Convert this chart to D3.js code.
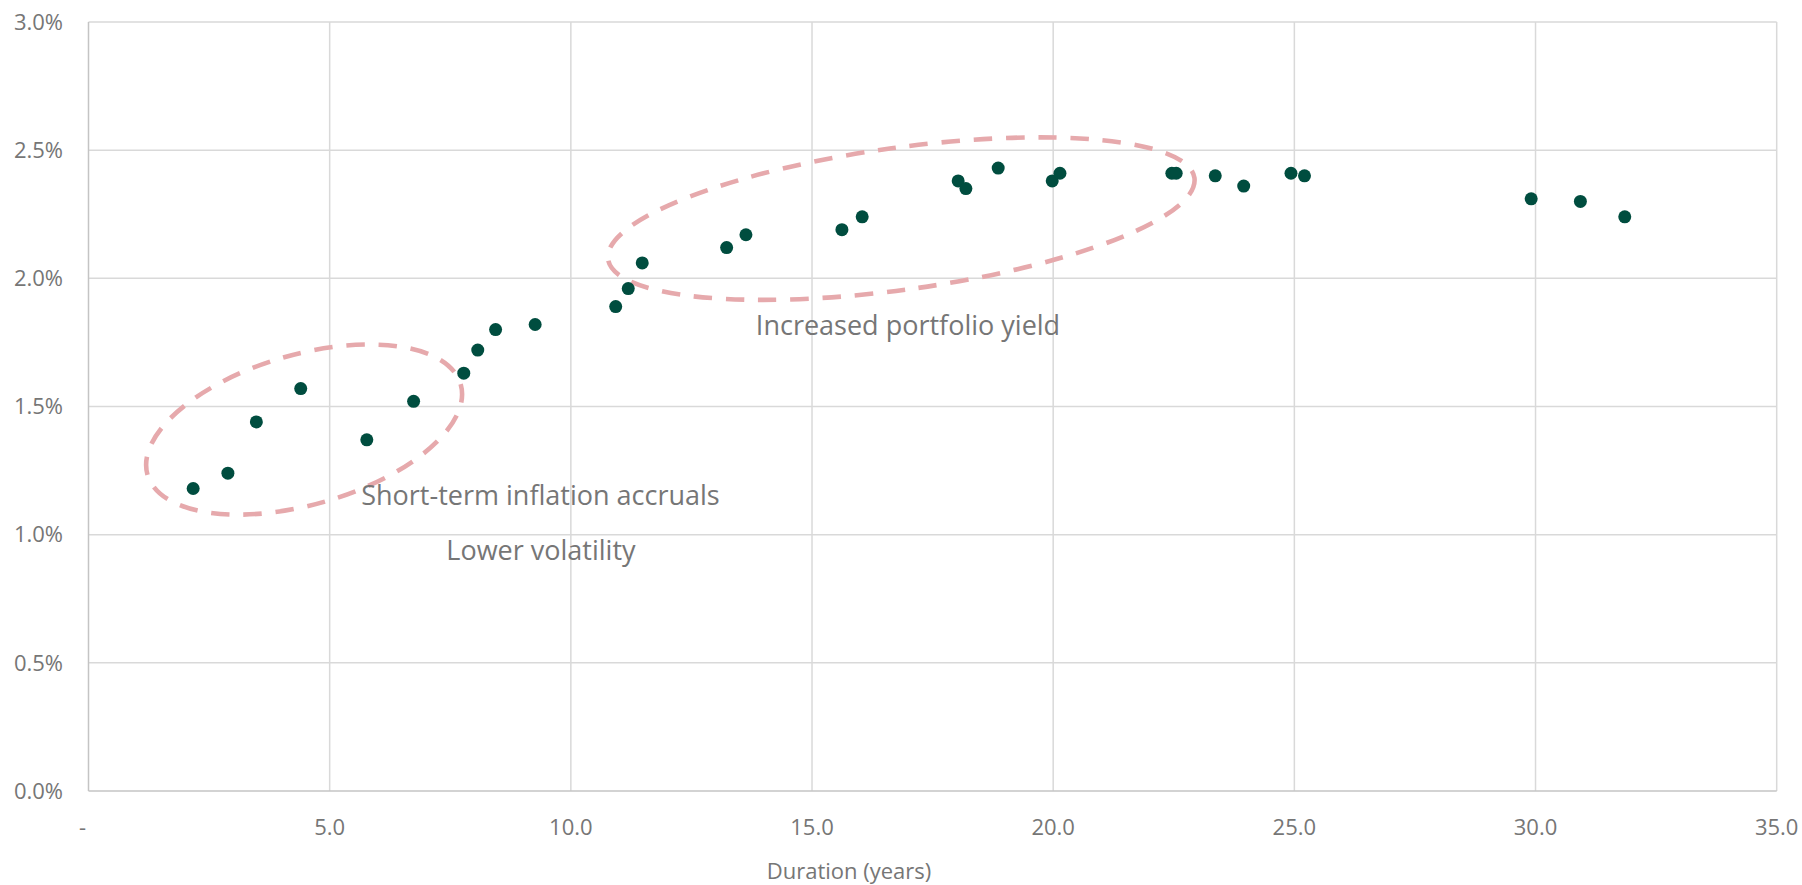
<!DOCTYPE html>
<html>
<head>
<meta charset="utf-8">
<script src="https://cdn.jsdelivr.net/npm/d3@7"></script>
<style>
  body { margin: 0; background: #fff; }
  text { font-family: "Segoe UI", "Open Sans", sans-serif; fill: #767676; }
  .grid line { stroke: #d9d9d9; stroke-width: 1.5; }
  .axis-line { stroke: #c4c4c4; stroke-width: 1.5; }
</style>
</head>
<body>
<div id="chart"></div>
<script>

// duration (years) and real yield (%) per bond
var duration = [2.17, 2.89, 3.48, 4.40, 5.77, 6.74, 7.78, 8.07, 8.44, 9.26,
                10.93, 11.19, 11.48, 13.23, 13.63, 15.62, 16.04, 18.03, 18.19, 18.86,
                19.98, 20.14, 22.46, 22.55, 23.36, 23.95, 24.93, 25.21, 29.91, 30.93, 31.85];
var yieldPct = [1.18, 1.24, 1.44, 1.57, 1.37, 1.52, 1.63, 1.72, 1.80, 1.82,
                1.89, 1.96, 2.06, 2.12, 2.17, 2.19, 2.24, 2.38, 2.35, 2.43,
                2.38, 2.41, 2.41, 2.41, 2.40, 2.36, 2.41, 2.40, 2.31, 2.30, 2.24];

var xTicks = [0, 5, 10, 15, 20, 25, 30, 35];
var yTicks = [0, 0.5, 1.0, 1.5, 2.0, 2.5, 3.0];

// annotation texts, anchored in data units (duration, yield)
var noteText = ["Short-term inflation accruals", "Lower volatility", "Increased portfolio yield"];
var noteX = [9.37, 9.38, 16.99];
var noteY = [1.114, 0.902, 1.78];

// centres of the two highlight ellipses, data units
var ringX = [4.47, 16.85];
var ringY = [1.41, 2.233];

var width = 1802,
    height = 885,
    margin = {top: 22, right: 25.3, bottom: 94, left: 88.5};

var svg = d3.select("#chart").append("svg")
    .attr("width", width)
    .attr("height", height);

var x = d3.scaleLinear()
    .domain([0, 35])
    .range([margin.left, width - margin.right]);

var y = d3.scaleLinear()
    .domain([0, 3])
    .range([height - margin.bottom, margin.top]);

// gridlines
svg.append("g")
    .attr("class", "grid")
    .selectAll("line")
    .data(yTicks.filter(function (d) { return d > 0; }))
    .enter().append("line")
    .attr("x1", x(0)).attr("x2", x(35))
    .attr("y1", function (d) { return y(d); })
    .attr("y2", function (d) { return y(d); });

svg.append("g")
    .attr("class", "grid")
    .selectAll("line")
    .data(xTicks.filter(function (d) { return d > 0; }))
    .enter().append("line")
    .attr("y1", y(0)).attr("y2", y(3))
    .attr("x1", function (d) { return x(d); })
    .attr("x2", function (d) { return x(d); });

// axis lines
svg.append("line").attr("class", "axis-line")
    .attr("x1", x(0)).attr("x2", x(0)).attr("y1", y(0)).attr("y2", y(3));
svg.append("line").attr("class", "axis-line")
    .attr("x1", x(0)).attr("x2", x(35)).attr("y1", y(0)).attr("y2", y(0));

// tick labels
var fmtY = d3.format(".1f");
svg.append("g").selectAll("text")
    .data(yTicks)
    .enter().append("text")
    .attr("x", margin.left - 25.5)
    .attr("y", function (d) { return y(d); })
    .attr("dy", "0.35em")
    .attr("text-anchor", "end")
    .style("font-size", "22px")
    .text(function (d) { return fmtY(d) + "%"; });

svg.append("g").selectAll("text")
    .data(xTicks)
    .enter().append("text")
    .attr("x", function (d) { return x(d); })
    .attr("dx", function (d) { return d === 0 ? -6 : 0; })
    .attr("y", y(0) + 44)
    .attr("text-anchor", "middle")
    .style("font-size", "22px")
    .text(function (d) { return d === 0 ? "-" : fmtY(d); });

svg.append("text")
    .attr("x", 849)
    .attr("y", height - 6)
    .attr("text-anchor", "middle")
    .style("font-size", "22px")
    .text("Duration (years)");

// dashed ellipses
var ringShape = [[163, 75, -16.1], [296, 71, -7.9]];
svg.append("g").selectAll("ellipse")
    .data(ringX)
    .enter().append("ellipse")
    .attr("transform", function (d, i) {
        return "translate(" + x(d) + "," + y(ringY[i]) + ") rotate(" + ringShape[i][2] + ")";
    })
    .attr("rx", function (d, i) { return ringShape[i][0]; })
    .attr("ry", function (d, i) { return ringShape[i][1]; })
    .attr("fill", "none")
    .attr("stroke", "#e6a9ac")
    .attr("stroke-width", 4.6)
    .attr("stroke-dasharray", "18.4 13.8");

// points
svg.append("g").selectAll("circle")
    .data(duration)
    .enter().append("circle")
    .attr("cx", function (d) { return x(d); })
    .attr("cy", function (d, i) { return y(yieldPct[i]); })
    .attr("r", 6.5)
    .attr("fill", "#004d3f");

// annotation labels
svg.append("g").selectAll("text")
    .data(noteText)
    .enter().append("text")
    .attr("x", function (d, i) { return x(noteX[i]); })
    .attr("y", function (d, i) { return y(noteY[i]); })
    .attr("text-anchor", "middle")
    .style("font-size", "27px")
    .text(function (d) { return d; });

</script>
</body>
</html>
